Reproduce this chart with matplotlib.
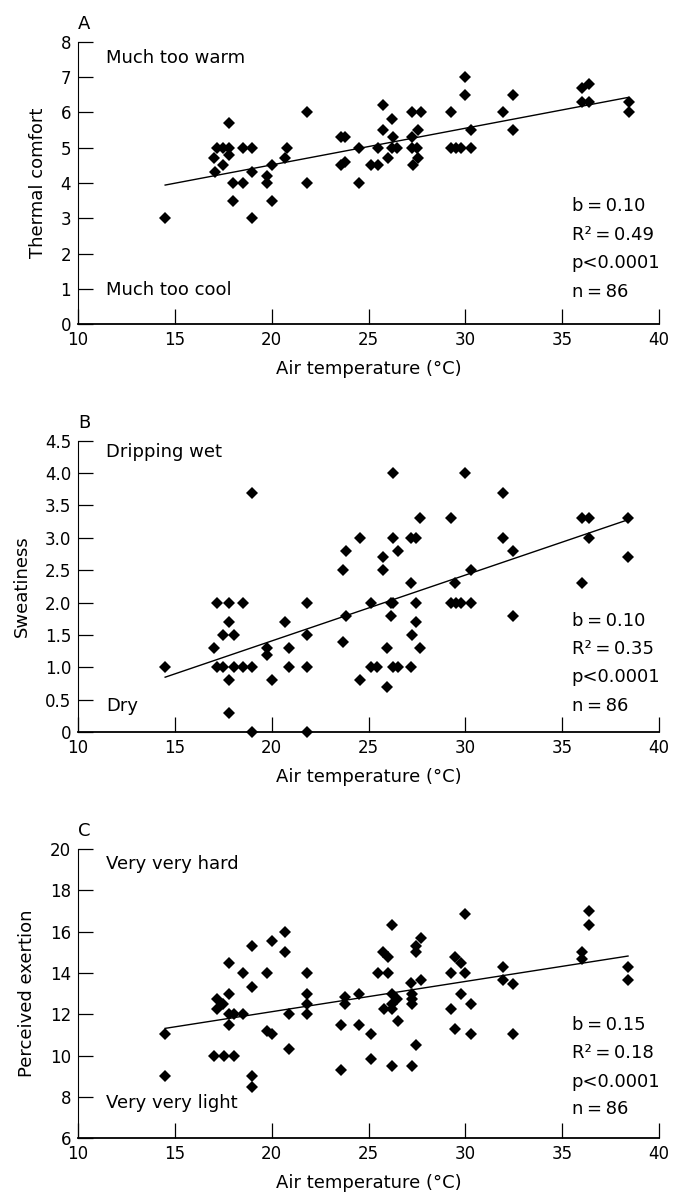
import matplotlib.pyplot as plt
import numpy as np

plt.rcParams['font.family'] = ['DejaVu Sans']

# air temperature (x) and responses
temp_a = [14.5, 17.0, 17.05, 17.2, 17.5, 17.5, 17.8, 17.8, 17.8, 18.0, 18.0, 18.5, 18.5,
          19.0, 19.0, 19.0, 19.75, 19.75, 20.03, 20.03, 20.7, 20.8, 21.8, 21.8,
          23.6, 23.8, 23.6, 23.8, 24.5, 24.5, 25.15, 25.5, 25.5, 25.75, 25.75, 26.0,
          26.2, 26.25, 26.2, 26.45, 27.25, 27.25, 27.25, 27.3, 27.5, 27.55, 27.55, 27.7,
          29.27, 29.27, 29.5, 29.77, 29.97, 29.97, 30.27, 30.27, 31.97, 32.48, 32.48,
          36.0, 36.0, 36.4, 36.4, 38.44, 38.44]
comfort = [3.0, 4.7, 4.3, 5.0, 4.5, 5.0, 5.0, 5.7, 4.8, 4.0, 3.5, 5.0, 4.0,
           5.0, 4.3, 3.0, 4.2, 4.0, 4.5, 3.5, 4.7, 5.0, 6.0, 4.0,
           5.3, 5.3, 4.5, 4.6, 5.0, 4.0, 4.5, 4.5, 5.0, 6.2, 5.5, 4.7,
           5.8, 5.3, 5.0, 5.0, 5.3, 5.0, 6.0, 4.5, 5.0, 5.5, 4.7, 6.0,
           6.0, 5.0, 5.0, 5.0, 7.0, 6.5, 5.5, 5.0, 6.0, 6.5, 5.5,
           6.7, 6.3, 6.8, 6.3, 6.3, 6.0]

temp_b = [14.5, 17.0, 17.2, 17.2, 17.5, 17.5, 17.8, 17.8, 17.8, 17.8, 18.05, 18.05,
          18.5, 18.5, 19.0, 19.0, 19.0, 19.75, 19.75, 20.0, 20.7, 20.9, 20.9,
          21.85, 21.85, 21.85, 21.85, 23.7, 23.85, 23.85, 23.7, 24.55, 24.55,
          25.15, 25.15, 25.45, 25.75, 25.75, 25.95, 25.95, 26.25, 26.25, 26.15, 26.25,
          26.15, 26.25, 26.5, 26.5, 27.2, 27.2, 27.25, 27.2, 27.45, 27.45, 27.45,
          27.65, 27.65, 29.27, 29.47, 29.27, 29.5, 29.77, 29.97, 30.27, 30.27,
          31.97, 31.97, 32.48, 32.48, 36.0, 36.0, 36.4, 36.4, 38.4, 38.4]
sweat = [1.0, 1.3, 2.0, 1.0, 1.5, 1.0, 2.0, 1.7, 0.8, 0.3, 1.5, 1.0,
         2.0, 1.0, 3.7, 1.0, 0.0, 1.3, 1.2, 0.8, 1.7, 1.3, 1.0,
         2.0, 1.5, 1.0, 0.0, 2.5, 2.8, 1.8, 1.4, 3.0, 0.8,
         2.0, 1.0, 1.0, 2.7, 2.5, 1.3, 0.7, 4.0, 3.0, 2.0, 2.0,
         1.8, 1.0, 2.8, 1.0, 3.0, 2.3, 1.5, 1.0, 3.0, 2.0, 1.7,
         3.3, 1.3, 3.3, 2.3, 2.0, 2.0, 2.0, 4.0, 2.5, 2.0,
         3.7, 3.0, 2.8, 1.8, 3.3, 2.3, 3.3, 3.0, 3.3, 2.7]

temp_c = [14.5, 14.5, 17.0, 17.2, 17.2, 17.5, 17.55, 17.8, 17.8, 17.8, 17.8, 18.05, 18.05,
          18.5, 18.5, 19.0, 19.0, 19.0, 19.0, 19.75, 19.75, 20.03, 20.03, 20.7, 20.7,
          20.9, 20.9, 21.8, 21.8, 21.8, 21.8, 23.6, 23.6, 23.8, 23.8, 24.5, 24.5,
          25.15, 25.15, 25.5, 25.75, 25.8, 26.0, 26.0, 26.2, 26.2, 26.2, 26.2, 26.2,
          26.45, 26.5, 27.2, 27.25, 27.25, 27.25, 27.25, 27.45, 27.45, 27.45, 27.7, 27.7,
          29.27, 29.27, 29.47, 29.47, 29.77, 29.77, 29.97, 29.97, 30.27, 30.27,
          31.97, 31.97, 32.48, 32.48, 36.0, 36.0, 36.4, 36.4, 38.4, 38.4]
exertion = [11.05, 9.0, 10.0, 12.75, 12.26, 12.5, 10.0, 14.5, 13.0, 12.0, 11.5, 12.0, 10.0,
            14.0, 12.0, 15.3, 13.3, 9.0, 8.5, 14.0, 11.2, 15.55, 11.05, 16.0, 15.0,
            12.0, 10.3, 14.0, 13.0, 12.5, 12.0, 11.5, 9.3, 12.85, 12.5, 13.0, 11.5,
            11.05, 9.85, 14.0, 15.0, 12.26, 14.75, 14.0, 16.3, 13.0, 12.5, 12.25, 9.5,
            12.75, 11.7, 13.5, 13.0, 12.75, 12.5, 9.5, 15.3, 15.0, 10.5, 15.7, 13.66,
            14.0, 12.26, 14.75, 11.3, 14.5, 13.0, 16.84, 14.0, 12.5, 11.05,
            14.3, 13.66, 13.47, 11.05, 15.0, 14.7, 17.0, 16.3, 14.3, 13.66]

# regression lines (end points)
fit_x = [14.5, 38.4]
fit_a = [3.94, 6.42]
fit_b = [0.85, 3.28]
fit_c = [11.32, 14.82]

yticks_a = [0, 1, 2, 3, 4, 5, 6, 7, 8]
yticks_b = [0, 0.5, 1.0, 1.5, 2.0, 2.5, 3.0, 3.5, 4.0, 4.5]
ylabels_b = ['0', '0.5', '1.0', '1.5', '2.0', '2.5', '3.0', '3.5', '4.0', '4.5']
yticks_c = [6, 8, 10, 12, 14, 16, 18, 20]
xticks = [10, 15, 20, 25, 30, 35, 40]

stats_a = ['b\u2009=\u20090.10', 'R\u00b2\u2009=\u20090.49', 'p<0.0001', 'n\u2009=\u200986']
stats_b = ['b\u2009=\u20090.10', 'R\u00b2\u2009=\u20090.35', 'p<0.0001', 'n\u2009=\u200986']
stats_c = ['b\u2009=\u20090.15', 'R\u00b2\u2009=\u20090.18', 'p<0.0001', 'n\u2009=\u200986']

fig = plt.figure(figsize=(6.73, 11.93), dpi=100)
axA = fig.add_axes([0.1159, 0.7282, 0.8633, 0.2369])
axB = fig.add_axes([0.1159, 0.3862, 0.8633, 0.2444])
axC = fig.add_axes([0.1159, 0.04585, 0.8633, 0.2425])

panels = [
    (axA, 'A', temp_a, comfort, fit_a, 'Thermal comfort', (0, 8), yticks_a, None,
     'Much too warm', 'Much too cool', 0.926, 0.104, stats_a, [0.402, 0.298, 0.198, 0.098]),
    (axB, 'B', temp_b, sweat, fit_b, 'Sweatiness', (0, 4.5), yticks_b, ylabels_b,
     'Dripping wet', 'Dry', 0.943, 0.074, stats_b, [0.366, 0.269, 0.171, 0.074]),
    (axC, 'C', temp_c, exertion, fit_c, 'Perceived exertion', (6, 20), yticks_c, None,
     'Very very hard', 'Very very light', 0.931, 0.104, stats_c, [0.374, 0.277, 0.178, 0.083]),
]

for ax, letter, xs, ys, fit, ylab, ylim, yt, ytl, top_txt, bot_txt, ty, by, stats, sy in panels:
    ax.plot(xs, ys, linestyle='', marker='D', markersize=5.8, markeredgewidth=0,
            color='black', clip_on=False, zorder=3)
    ax.plot(fit_x, fit, color='black', linewidth=1.0)

    ax.set_xlim(10, 40)
    ax.set_ylim(*ylim)
    ax.set_xticks(xticks)
    ax.set_yticks(yt)
    if ytl is not None:
        ax.set_yticklabels(ytl)

    for s in ['top', 'right']:
        ax.spines[s].set_visible(False)
    ax.spines['left'].set_linewidth(0.8)
    ax.spines['bottom'].set_linewidth(1.3)
    ax.tick_params(direction='in', length=11, width=0.9, labelsize=12, pad=5, color='black')

    ax.set_ylabel(ylab, fontsize=13, labelpad=10)
    ax.set_xlabel('Air temperature (\u00b0C)', fontsize=13)
    # keep the label the same distance below the axis in every panel
    ax.xaxis.set_label_coords(0.5, -36 / (ax.get_position().height * 1193))
    ax.xaxis.label.set_va('top')

    ax.annotate(letter, xy=(0, 1), xycoords='axes fraction', xytext=(0, 9),
                textcoords='offset points', ha='left', va='baseline', fontsize=13)

    ax.text(0.049, ty, top_txt, transform=ax.transAxes, fontsize=13, va='baseline')
    ax.text(0.049, by, bot_txt, transform=ax.transAxes, fontsize=13, va='baseline')
    for t, yy in zip(stats, sy):
        ax.text(0.85, yy, t, transform=ax.transAxes, fontsize=13, va='baseline')

plt.savefig('out.png', dpi=100)
plt.close()
